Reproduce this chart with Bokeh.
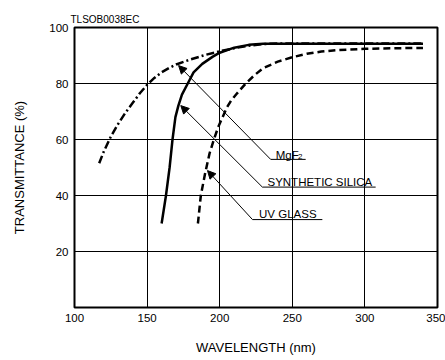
from bokeh.plotting import figure
from bokeh.models import Range1d, Label, Arrow, NormalHead, FixedTicker
from bokeh.embed import file_html
from bokeh.resources import INLINE

FONT = "Liberation Sans"

# Data
mgf2_x = [117, 120, 125, 130, 135, 140, 145, 150, 155, 160, 165, 170, 180, 190, 200, 210, 220, 230, 240, 340]
mgf2_y = [51.5, 55.5, 61, 65.5, 69.5, 73, 76.5, 79.5, 82, 84, 85.5, 86.8, 88.6, 90.2, 91.5, 92.6, 93.5, 94.1, 94.3, 94.3]

silica_x = [160, 163, 165.5, 167.5, 169.5, 171.5, 174, 178, 182, 188, 195, 200, 210, 220, 230, 340]
silica_y = [30, 40, 50, 60, 68, 72, 76, 80, 84, 87, 89.5, 91, 92.8, 93.8, 94.2, 94.2]

uv_x = [185, 187, 190, 193, 196, 199, 202, 205, 208, 212, 218, 224, 230, 240, 250, 260, 270, 280, 300, 320, 340]
uv_y = [30, 40, 48, 55, 60, 64.5, 68, 71.5, 74, 76.5, 80, 83, 85.5, 87.8, 89.4, 90.6, 91.4, 91.9, 92.4, 92.6, 92.7]

x_ticks = [100, 150, 200, 250, 300, 350]
y_ticks = [20, 40, 60, 80, 100]

# annotation labels: (text, x, y)
labels = [("SYNTHETIC SILICA", 232.9, 44.8), ("UV GLASS", 227.1, 33.4)]
# leader lines: (start x, start y, tip x, tip y, underline end x)
leaders = [(235.1, 52.9, 171.7, 86.4, 259.2),
           (229.4, 43.0, 173.2, 72.1, 307.4),
           (222.6, 31.4, 191.6, 48.9, 270.7)]

p = figure(width=445, height=360, output_backend="svg", toolbar_location=None,
           x_range=Range1d(100, 350), y_range=Range1d(0, 100),
           min_border_left=74, min_border_right=8, min_border_top=27, min_border_bottom=53)
p.background_fill_color = "white"
p.border_fill_color = "white"
p.outline_line_color = "black"
p.outline_line_width = 2

p.title.text = "TLSOB0038EC"
p.title.align = "left"
p.title.text_font = FONT
p.title.text_font_size = "10px"
p.title.text_font_style = "normal"
p.title.text_color = "black"
p.title.standoff = 5
p.title.offset = -4

for ax in (p.xaxis[0], p.yaxis[0]):
    ax.axis_line_color = None
    ax.major_tick_line_color = None
    ax.minor_tick_line_color = None
    ax.major_tick_out = 0
    ax.major_tick_in = 0
    ax.major_label_text_font = FONT
    ax.major_label_text_font_size = "11.5px"
    ax.major_label_text_color = "black"
    ax.axis_label_text_font = FONT
    ax.axis_label_text_font_size = "13px"
    ax.axis_label_text_font_style = "normal"
    ax.axis_label_text_color = "black"
    ax.major_label_standoff = 6

p.xaxis.ticker = FixedTicker(ticks=x_ticks)
p.yaxis.ticker = FixedTicker(ticks=y_ticks)
p.xaxis.axis_label = "WAVELENGTH (nm)"
p.yaxis.axis_label = "TRANSMITTANCE (%)"
p.xaxis.axis_label_standoff = 15
p.yaxis.axis_label_standoff = 19

p.xgrid.ticker = FixedTicker(ticks=x_ticks)
p.ygrid.ticker = FixedTicker(ticks=y_ticks)
p.grid.grid_line_color = "black"
p.grid.grid_line_width = 1

p.line(mgf2_x, mgf2_y, line_color="black", line_width=2.5, line_dash="8 3 2 3")
p.line(silica_x, silica_y, line_color="black", line_width=2.5)
p.line(uv_x, uv_y, line_color="black", line_width=2.5, line_dash="7 4")

for sx, sy, tx, ty, ux in leaders:
    p.add_layout(Arrow(x_start=sx, y_start=sy, x_end=tx, y_end=ty, line_color="black", line_width=1,
                       end=NormalHead(size=8, fill_color="black", line_color="black", line_width=1)))
    p.segment(x0=[sx], y0=[sy], x1=[ux], y1=[sy], line_color="black", line_width=1)

for t, x, y in labels:
    p.add_layout(Label(x=x, y=y, text=t, text_font=FONT, text_font_size="11.5px",
                       text_baseline="alphabetic", text_align="left", text_color="black"))
p.add_layout(Label(x=238.6, y=54.5, text="MgF", text_font=FONT, text_font_size="11.5px",
                   text_baseline="alphabetic", text_align="left", text_color="black"))
p.add_layout(Label(x=253.9, y=54.1, text="2", text_font=FONT, text_font_size="8px",
                   text_baseline="alphabetic", text_align="left", text_color="black"))

open("out.html", "w").write(file_html(p, INLINE))
